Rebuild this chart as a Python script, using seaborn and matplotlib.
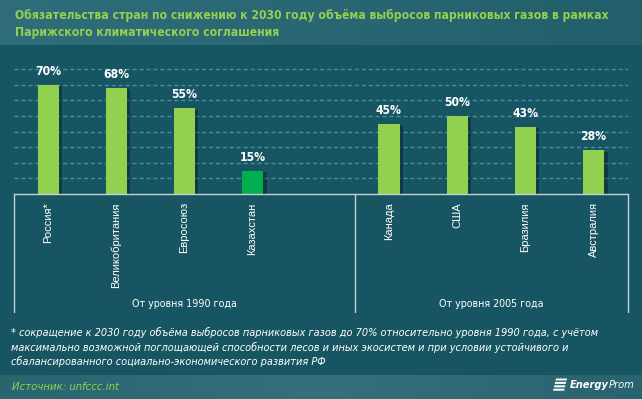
import numpy as np
import pandas as pd
import seaborn as sns
import matplotlib.pyplot as plt
import matplotlib.transforms as mtransforms
from matplotlib import font_manager, patheffects
from matplotlib.patches import Polygon
from matplotlib.colors import LinearSegmentedColormap

# chart data
title_text = ("Обязательства стран по снижению к 2030 году объёма выбросов парниковых газов в рамках\n"
              "Парижского климатического соглашения")
countries_1990 = ["Россия*", "Великобритания", "Евросоюз", "Казахстан"]
values_1990 = [70, 68, 55, 15]
countries_2005 = ["Канада", "США", "Бразилия", "Австралия"]
values_2005 = [45, 50, 43, 28]
group_labels = ["От уровня 1990 года", "От уровня 2005 года"]
highlight = "Казахстан"
footnote_lines = [
    "* сокращение к 2030 году объёма выбросов парниковых газов до 70% относительно уровня 1990 года, с учётом",
    "максимально возможной поглощающей способности лесов и иных экосистем и при условии устойчивого и",
    "сбалансированного социально-экономического развития РФ",
]
source_text = "Источник: unfccc.int"

BG = "#185562"
GREEN = "#92d050"
DARK_GREEN = "#00b050"
GRID = "#3d91a3"
LINE = "#c5d0d4"

# pick a narrow font if there is one
fonts = font_manager.fontManager.ttflist
names = {f.name for f in fonts}
if "Liberation Sans Narrow" in names:
    NARROW = dict(family="Liberation Sans Narrow")
    k = 1.0
elif any(f.name == "DejaVu Sans" and f.stretch == "condensed" for f in fonts):
    NARROW = dict(family="DejaVu Sans", fontstretch="condensed")
    k = 0.92
else:
    NARROW = dict(family="Liberation Sans")
    k = 0.84
REG = "Liberation Sans"

sns.set_theme(style="white")
plt.rcParams["font.family"] = [REG, "DejaVu Sans"]

# positions: an empty slot closes the first group
pos_1990 = np.arange(len(countries_1990))
pos_2005 = np.arange(len(countries_2005)) + len(countries_1990) + 1
df = pd.DataFrame({
    "country": countries_1990 + countries_2005,
    "value": values_1990 + values_2005,
    "pos": np.concatenate([pos_1990, pos_2005]),
})
palette = {c: (DARK_GREEN if c == highlight else GREEN) for c in df["country"]}
edges = [-0.5, len(countries_1990) + 0.5, df["pos"].max() + 0.5]

fig = plt.figure(figsize=(6.42, 3.99), dpi=100)
fig.patch.set_facecolor(BG)

# lighter bands for the title and the source line
bands = [
    (1 - 45 / 399, 45 / 399, ["#306d7a", "#2a6674", "#225f6a"]),
    (0, 24 / 399, ["#29646f", "#36707d", "#29636f"]),
]
for y0, h, cols in bands:
    bax = fig.add_axes([0, y0, 1, h], zorder=-5)
    bax.imshow(np.linspace(0, 1, 256)[None, :], aspect="auto",
               cmap=LinearSegmentedColormap.from_list("band", cols), extent=(0, 1, 0, 1))
    bax.set_axis_off()

ax = fig.add_axes([14 / 642, 205 / 399, 613.6 / 642, 137.3 / 399])
ax.set_facecolor("none")
sns.barplot(data=df, x="pos", y="value", hue="country", palette=palette, native_scale=True,
            dodge=False, width=0.31, saturation=1, legend=False, ax=ax, edgecolor="none", linewidth=0)
for p in ax.patches:
    p.set_path_effects([patheffects.SimplePatchShadow(offset=(2.5, -1), shadow_rgbFace="black", alpha=0.3),
                        patheffects.Normal()])

ax.set_xlim(edges[0], edges[-1])
ax.set_ylim(0, 88)
ax.set_yticks(range(10, 81, 10))
ax.set_yticklabels([])
ax.yaxis.grid(True, color=GRID, linestyle=(0, (3, 2)), linewidth=1)
ax.set_axisbelow(True)
ax.tick_params(axis="y", length=0)
for s in ["left", "right", "top"]:
    ax.spines[s].set_visible(False)
ax.spines["bottom"].set_color(LINE)
ax.spines["bottom"].set_linewidth(1)

ax.set_xticks(df["pos"], df["country"], rotation=90, fontsize=8, color="white")
ax.tick_params(axis="x", length=0, pad=6)
ax.set_xlabel("")
ax.set_ylabel("")

for _, r in df.iterrows():
    ax.annotate(f"{r['value']}%", (r["pos"], r["value"]), xytext=(0, 5), textcoords="offset points",
                ha="center", va="bottom", color="white", fontweight="bold", fontsize=9.5 * k, **NARROW)

# group separators and group labels under the axis
trans = mtransforms.blended_transform_factory(ax.transData, fig.transFigure)
for xb in edges:
    ax.plot([xb, xb], [205 / 399, 1 - 312 / 399], transform=trans, clip_on=False, color=LINE, lw=1)
for lab, a, b in zip(group_labels, edges[:-1], edges[1:]):
    ax.text((a + b) / 2, 1 - 304 / 399, lab, transform=trans, ha="center", va="center",
            color="white", fontsize=8.3 * k, **NARROW)

fig.text(15 / 642, 1 - 24 / 399, title_text, ha="left", va="center", color=GREEN,
         fontweight="bold", fontsize=9.5 * k, linespacing=1.45, **NARROW)

for i, line in enumerate(footnote_lines):
    fig.text(11 / 642, 1 - (332.5 + 14.7 * i) / 399, line, ha="left", va="center", color="white",
             style="italic", fontsize=8.5 * k, **NARROW)

fig.text(12 / 642, 1 - 387 / 399, source_text, ha="left", va="center", color=GREEN,
         style="italic", fontsize=8.8 * k, **NARROW)

# logo
for j in range(4):
    y0 = 1 - (378.5 + 3.4 * j) / 399
    x0 = (556 - 0.8 * j) / 642
    fig.patches.append(Polygon([(x0, y0), (x0 + 11 / 642, y0), (x0 + 10.5 / 642, y0 - 2 / 399),
                                (x0 - 0.5 / 642, y0 - 2 / 399)], closed=True,
                               transform=fig.transFigure, facecolor="white", edgecolor="none"))
t1 = fig.text(570 / 642, 1 - 385.5 / 399, "Energy", ha="left", va="center", color="white",
              fontweight="bold", style="italic", fontsize=8.6 * k, **NARROW)
bb = t1.get_window_extent(renderer=fig.canvas.get_renderer())
fig.text(bb.x1 / fig.bbox.width, 1 - 385.5 / 399, "Prom", ha="left", va="center",
         color="white", style="italic", fontsize=8.6 * k, **NARROW)

fig.savefig("out.png", dpi=100, facecolor=fig.get_facecolor())
